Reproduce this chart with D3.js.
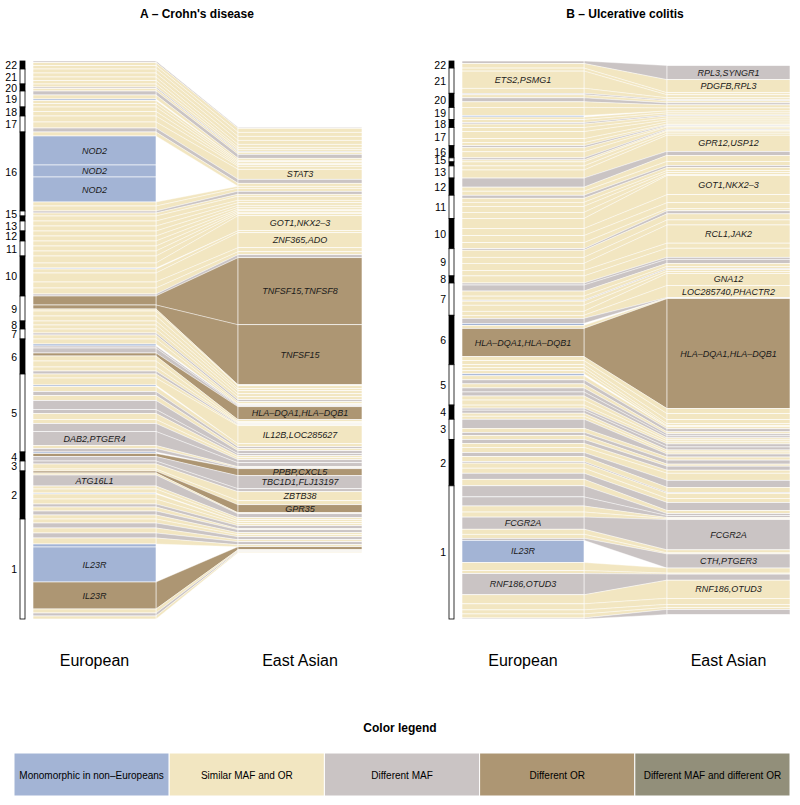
<!DOCTYPE html>
<html>
<head>
<meta charset="utf-8">
<script src="https://cdn.jsdelivr.net/npm/d3@7"></script>
<style>
  body { margin: 0; background: #fff; }
  svg { font-family: "Liberation Sans", Arial, Helvetica, sans-serif; }
</style>
</head>
<body>
<div id="chart"></div>
<script>
const chromosomes = [22, 21, 20, 19, 18, 17, 16, 15, 14, 13, 12, 11, 10, 9, 8, 7, 6, 5, 4, 3, 2, 1];
const chromHidden = [14];

const categoryCodes = ["m", "s", "f", "o", "b"];
const categoryNames = ["Monomorphic in non–Europeans", "Similar MAF and OR", "Different MAF", "Different OR", "Different MAF and different OR"];
const categoryColors = ["#a3b4d5", "#f2e6c1", "#cac4c4", "#ad9673", "#928f7a"];

// Crohn's disease, loci per chromosome (22 -> 1), band sizes in Europeans / East Asians
const cdEur = [
  [1.5, 3, 3.5], [4, 4, 3.5, 3.5], [3, 1.5, 2.5], [4, 4, 1.5, 3, 3.5], [4.5, 4.5], [6, 6, 4],
  [4, 29, 12, 25, 4, 5], [2, 3], [5], [5, 5], [5, 5], [5, 5, 5], [7, 5, 1, 4, 9, 6, 6, 2],
  [9, 4, 2, 5, 5], [4, 4], [4, 2, 4], [5, 2, 2, 5, 3, 5, 6, 4, 3],
  [4, 7, 1.5, 5, 4, 5, 9, 4, 6, 4, 8, 14, 3, 3.5], [1.5, 3, 4.5], [3, 5, 2],
  [2, 2, 11, 3, 4, 1, 5, 5, 3, 4, 4, 4], [4, 5, 5, 5, 6, 3, 35, 27, 4, 3, 3]
];
const cdEas = [
  [1, 4, 4], [4, 4, 3, 2], [2, 1, 2], [4, 2, 0, 1.5, 1.5], [1.5, 1.5], [3, 10, 4],
  [3, 0, 0, 0, 2, 3], [3, 2], [4], [2.5, 2.5], [2, 2], [1.5, 1.5, 1.5], [2, 15, 0, 2, 15, 4, 3, 3],
  [67, 60, 1, 3, 2], [3, 3], [3, 2, 2], [1, 0, 1, 1, 13, 2, 1, 1, 1],
  [1, 18, 0, 3, 2, 2, 3, 2, 2, 2, 3, 4, 1, 1], [0, 7, 13], [3, 9, 4],
  [8, 1, 4, 2, 2, 0, 2, 2, 3, 1, 3, 2], [2, 3, 2, 3, 2, 0, 0, 3, 1, 1, 1]
];
const cdCat = ["fss", "ssss", "sfs", "fsmss", "ss", "ssf", "smmmss", "fs", "s", "ss", "ss", "sss", "ssmssssf",
  "oosss", "ss", "sfs", "smffosssf", "ssmsfsffssffsf", "mof", "fss", "osfssmssfsfs", "sfsfsmmosfs"];
const cdLabels = [
  [17, 1, "STAT3", "A"],
  [16, 1, "NOD2", "E"], [16, 2, "NOD2", "E"], [16, 3, "NOD2", "E"],
  [10, 1, "GOT1,NKX2–3", "A"], [10, 4, "ZNF365,ADO", "A"],
  [9, 0, "TNFSF15,TNFSF8", "A"], [9, 1, "TNFSF15", "A"],
  [6, 4, "HLA–DQA1,HLA–DQB1", "A"],
  [5, 1, "IL12B,LOC285627", "A"], [5, 11, "DAB2,PTGER4", "E"],
  [4, 1, "PPBP,CXCL5", "A"], [4, 2, "TBC1D1,FLJ13197", "A"],
  [3, 1, "ZBTB38", "A"],
  [2, 0, "GPR35", "A"], [2, 2, "ATG16L1", "E"],
  [1, 6, "IL23R", "E"], [1, 7, "IL23R", "E"]
];

// Ulcerative colitis
const ucEur = [
  [2.5, 4.5], [3, 17, 5], [1.5, 3, 4, 5.5], [8, 1.5, 2.5], [3, 1.5, 3.5], [4, 7, 4, 3],
  [2, 4, 6], [2, 2], [4], [4, 8], [9, 4, 4], [3, 4, 4, 6, 6], [10, 7, 7, 6],
  [1.5, 7, 6, 7, 5.5], [7], [2, 6, 5, 4, 1, 4, 6, 4], [3, 5, 2, 3, 28, 4, 4],
  [3, 3, 3, 2, 4, 4, 4, 4, 4, 4, 5], [3, 2, 3, 3, 3], [9, 4, 3, 4],
  [4, 4, 5, 4, 5, 1.5, 5, 5, 6, 6.5], [11, 9, 6, 5, 12, 5, 4, 2, 22, 8, 3, 21, 9, 6, 4, 4, 1]
];
const ucEas = [
  [14, 13], [2, 3, 2], [1, 2, 2, 3], [3, 0, 2], [2, 1, 2], [2, 2, 2, 1],
  [1, 1, 2], [1, 1], [2], [2, 16], [4, 6, 4], [2, 3, 2, 2, 1], [19, 8, 6, 2],
  [3, 6, 5, 18, 5], [9], [2, 4, 3, 2, 1, 2, 2, 12], [12, 0.5, 0, 0.5, 109, 5, 6],
  [4, 2, 1, 0, 2, 3, 2, 2, 2, 2, 2], [2, 3, 3, 2, 2], [3, 3, 4, 2],
  [4, 3, 7, 7, 5, 1, 5, 4, 8, 3], [2, 2, 1, 1, 30, 3, 1, 14, 0, 5, 1, 6, 18, 6, 3, 2, 5]
];
const ucCat = ["fs", "sss", "fsfs", "sms", "sfs", "ssss", "fss", "fs", "s", "ss", "fss", "fssss", "ssss",
  "fssss", "s", "ffssfsss", "sfmsoss", "sssmsfsffss", "sffss", "fsfs", "fssfsfssfs", "ffssfssfmssfssssf"];
const ucLabels = [
  [22, 0, "RPL3,SYNGR1", "A"], [22, 1, "PDGFB,RPL3", "A"],
  [21, 1, "ETS2,PSMG1", "E"],
  [13, 1, "GPR12,USP12", "A"],
  [10, 0, "GOT1,NKX2–3", "A"],
  [9, 3, "RCL1,JAK2", "A"],
  [7, 7, "GNA12", "A"],
  [6, 0, "LOC285740,PHACTR2", "A"], [6, 4, "HLA–DQA1,HLA–DQB1", "EA"],
  [1, 4, "FCGR2A", "EA"], [1, 7, "CTH,PTGER3", "A"], [1, 8, "IL23R", "E"],
  [1, 11, "RNF186,OTUD3", "E"], [1, 12, "RNF186,OTUD3", "A"]
];

const H = 558, MID = 340;
const color = d3.scaleOrdinal().domain(categoryCodes).range(categoryColors);

const svg = d3.select("#chart")
  .append("svg")
  .attr("width", 800)
  .attr("height", 805);

function drawPanel(p) {
  const g = svg.append("g");
  const loci = [];
  chromosomes.forEach((c, i) => {
    p.eur[i].forEach((v, j) => loci.push({chrom: c, idx: j, eur: v, eas: p.eas[i][j], cat: p.cat[i][j]}));
  });
  const y = d3.scaleLinear().domain([0, d3.sum(loci, d => d.eur)]).range([0, H]);
  let a = MID - H / 2, b = MID - y(d3.sum(loci, d => d.eas)) / 2;
  loci.forEach(d => {
    d.l0 = a; a += y(d.eur); d.l1 = a;
    d.r0 = b; b += y(d.eas); d.r1 = b;
  });
  const shown = loci.filter(d => d.eas > 0);

  // ribbons between the two columns
  g.selectAll("path.ribbon")
    .data(shown)
    .enter()
    .append("path")
    .attr("class", "ribbon")
    .attr("d", d => `M${p.lx1},${d.l0}L${p.rx0},${d.r0}L${p.rx0},${d.r1}L${p.lx1},${d.l1}Z`)
    .attr("fill", d => color(d.cat))
    .attr("stroke", "#fff")
    .attr("stroke-width", 0.4);

  g.selectAll("rect.eur")
    .data(loci)
    .enter()
    .append("rect")
    .attr("class", "eur")
    .attr("x", p.lx0)
    .attr("y", d => d.l0)
    .attr("width", p.lx1 - p.lx0)
    .attr("height", d => d.l1 - d.l0)
    .attr("fill", d => color(d.cat))
    .attr("stroke", "#fff")
    .attr("stroke-width", 0.6);

  g.selectAll("rect.eas")
    .data(shown)
    .enter()
    .append("rect")
    .attr("class", "eas")
    .attr("x", p.rx0)
    .attr("y", d => d.r0)
    .attr("width", p.rx1 - p.rx0)
    .attr("height", d => d.r1 - d.r0)
    .attr("fill", d => color(d.cat))
    .attr("stroke", "#fff")
    .attr("stroke-width", 0.6);

  // gene labels
  const labs = [];
  p.labels.forEach(([c, j, text, side]) => {
    const d = loci.find(l => l.chrom === c && l.idx === j);
    if (side.includes("E")) labs.push({x: (p.lx0 + p.lx1) / 2, y: (d.l0 + d.l1) / 2, text});
    if (side.includes("A")) labs.push({x: (p.rx0 + p.rx1) / 2, y: (d.r0 + d.r1) / 2, text});
  });
  g.selectAll("text.gene")
    .data(labs)
    .enter()
    .append("text")
    .attr("class", "gene")
    .attr("x", d => d.x)
    .attr("y", d => d.y)
    .attr("text-anchor", "middle")
    .attr("dominant-baseline", "central")
    .attr("font-size", "9px")
    .attr("font-style", "italic")
    .attr("fill", "#1a1a1a")
    .text(d => d.text);

  // chromosome ideogram
  const chroms = chromosomes.map((c, i) => {
    const sub = loci.filter(l => l.chrom === c);
    return {chrom: c, i, top: sub[0].l0, bottom: sub[sub.length - 1].l1};
  });
  g.selectAll("rect.chrom")
    .data(chroms)
    .enter()
    .append("rect")
    .attr("class", "chrom")
    .attr("x", p.ix)
    .attr("y", d => d.top)
    .attr("width", 5)
    .attr("height", d => d.bottom - d.top)
    .attr("fill", d => d.i % 2 === 0 ? "#000" : "#fff")
    .attr("stroke", "#000")
    .attr("stroke-width", 0.8);
  g.selectAll("text.chrom")
    .data(chroms.filter(d => !chromHidden.includes(d.chrom)))
    .enter()
    .append("text")
    .attr("class", "chrom")
    .attr("x", p.ix - 3)
    .attr("y", d => (d.top + d.bottom) / 2)
    .attr("text-anchor", "end")
    .attr("dominant-baseline", "central")
    .attr("font-size", "10.5px")
    .text(d => d.chrom);

  g.append("text")
    .attr("x", p.titleX)
    .attr("y", 18)
    .attr("text-anchor", "middle")
    .attr("font-size", "12px")
    .attr("font-weight", "bold")
    .text(p.title);

  g.selectAll("text.pop")
    .data([["European", (p.lx0 + p.lx1) / 2], ["East Asian", (p.rx0 + p.rx1) / 2]])
    .enter()
    .append("text")
    .attr("class", "pop")
    .attr("x", d => d[1])
    .attr("y", 666)
    .attr("text-anchor", "middle")
    .attr("font-size", "16px")
    .text(d => d[0]);
}

drawPanel({title: "A – Crohn's disease", titleX: 197, ix: 20, lx0: 33, lx1: 156, rx0: 238, rx1: 362,
  eur: cdEur, eas: cdEas, cat: cdCat, labels: cdLabels});
drawPanel({title: "B – Ulcerative colitis", titleX: 625, ix: 449, lx0: 462, lx1: 584, rx0: 667, rx1: 790,
  eur: ucEur, eas: ucEas, cat: ucCat, labels: ucLabels});

// legend
const legend = svg.append("g").attr("id", "legend");
const lw = (790 - 14) / categoryNames.length;
legend.append("text")
  .attr("x", 400)
  .attr("y", 732)
  .attr("text-anchor", "middle")
  .attr("font-size", "12px")
  .attr("font-weight", "bold")
  .text("Color legend");
legend.selectAll("rect")
  .data(categoryNames)
  .enter()
  .append("rect")
  .attr("x", (_d, i) => 14 + lw * i)
  .attr("y", 753)
  .attr("width", lw)
  .attr("height", 43)
  .attr("fill", (_d, i) => categoryColors[i])
  .attr("stroke", "#fff")
  .attr("stroke-width", 1);
legend.selectAll("text.item")
  .data(categoryNames)
  .enter()
  .append("text")
  .attr("class", "item")
  .attr("x", (_d, i) => 14 + lw * i + lw / 2)
  .attr("y", 775)
  .attr("text-anchor", "middle")
  .attr("dominant-baseline", "central")
  .attr("font-size", "10px")
  .text(d => d);
</script>
</body>
</html>
